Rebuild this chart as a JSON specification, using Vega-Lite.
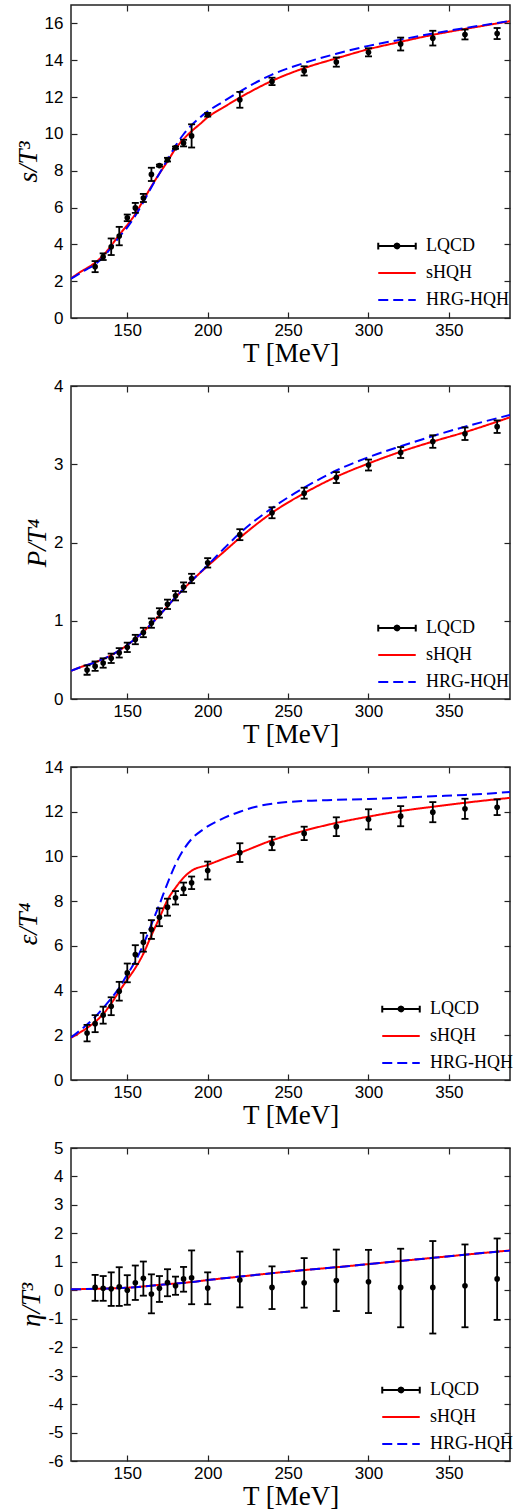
{
  "$schema": "https://vega.github.io/schema/vega-lite/v6.json",
  "background": "white",
  "padding": {"left": 13, "top": 3, "right": 0, "bottom": 0},
  "spacing": 68,
  "bounds": "flush",
  "config": {
    "view": {"stroke": "#222222", "strokeWidth": 1.5},
    "axis": {"domain": false, "grid": false, "tickColor": "#222222", "tickSize": -6, "tickWidth": 1.2,
      "labelFont": "Liberation Sans", "labelFontSize": 17, "labelColor": "black", "labelPadding": 14,
      "titleFont": "Liberation Serif", "titleFontSize": 27, "titleFontWeight": "normal", "titleColor": "black"},
    "axisBottom": {"labelPadding": 10},
    "legend": {"labelFont": "Liberation Serif", "labelFontSize": 18, "labelColor": "black"}
  },
  "datasets": {
    "s_pts": [
      {"T":130,"v":2.79,"lo":2.49,"hi":3.09},{"T":135,"v":3.33,"lo":3.15,"hi":3.51},{"T":140,"v":3.87,"lo":3.42,"hi":4.32},
      {"T":145,"v":4.45,"lo":3.95,"hi":4.95},{"T":150,"v":5.44,"lo":5.26,"hi":5.62},{"T":155,"v":5.98,"lo":5.71,"hi":6.25},
      {"T":160,"v":6.52,"lo":6.3,"hi":6.74},{"T":165,"v":7.8,"lo":7.44,"hi":8.16},{"T":170,"v":8.28,"lo":8.23,"hi":8.33},
      {"T":175,"v":8.6,"lo":8.5,"hi":8.7},{"T":180,"v":9.25,"lo":9.19,"hi":9.31},{"T":185,"v":9.5,"lo":9.32,"hi":9.68},
      {"T":190,"v":9.89,"lo":9.26,"hi":10.52},{"T":200,"v":11.04,"lo":10.94,"hi":11.14},{"T":220,"v":11.85,"lo":11.42,"hi":12.28},
      {"T":240,"v":12.85,"lo":12.65,"hi":13.05},{"T":260,"v":13.42,"lo":13.17,"hi":13.67},{"T":280,"v":13.9,"lo":13.65,"hi":14.15},
      {"T":300,"v":14.43,"lo":14.21,"hi":14.65},{"T":320,"v":14.88,"lo":14.53,"hi":15.23},{"T":340,"v":15.2,"lo":14.8,"hi":15.6},
      {"T":360,"v":15.4,"lo":15.13,"hi":15.67},{"T":380,"v":15.45,"lo":15.15,"hi":15.75}
    ],
    "s_lines": [
      {"T":115,"v":2.15,"series":"sHQH"},{"T":120,"v":2.45,"series":"sHQH"},{"T":125,"v":2.72,"series":"sHQH"},{"T":130,"v":3.0,"series":"sHQH"},
      {"T":135,"v":3.4,"series":"sHQH"},{"T":140,"v":3.93,"series":"sHQH"},{"T":145,"v":4.52,"series":"sHQH"},{"T":150,"v":5.05,"series":"sHQH"},
      {"T":155,"v":5.65,"series":"sHQH"},{"T":160,"v":6.4,"series":"sHQH"},{"T":165,"v":7.15,"series":"sHQH"},{"T":170,"v":7.85,"series":"sHQH"},
      {"T":175,"v":8.5,"series":"sHQH"},{"T":180,"v":9.2,"series":"sHQH"},{"T":185,"v":9.72,"series":"sHQH"},{"T":190,"v":10.15,"series":"sHQH"},
      {"T":195,"v":10.52,"series":"sHQH"},{"T":200,"v":10.9,"series":"sHQH"},{"T":210,"v":11.45,"series":"sHQH"},{"T":220,"v":11.97,"series":"sHQH"},
      {"T":240,"v":12.88,"series":"sHQH"},{"T":260,"v":13.57,"series":"sHQH"},{"T":280,"v":14.1,"series":"sHQH"},{"T":300,"v":14.6,"series":"sHQH"},
      {"T":320,"v":15.0,"series":"sHQH"},{"T":340,"v":15.38,"series":"sHQH"},{"T":360,"v":15.7,"series":"sHQH"},{"T":380,"v":16.0,"series":"sHQH"},
      {"T":388,"v":16.12,"series":"sHQH"},
      {"T":115,"v":2.13,"series":"HRG-HQH"},{"T":120,"v":2.4,"series":"HRG-HQH"},{"T":125,"v":2.66,"series":"HRG-HQH"},{"T":130,"v":2.92,"series":"HRG-HQH"},
      {"T":135,"v":3.3,"series":"HRG-HQH"},{"T":140,"v":3.82,"series":"HRG-HQH"},{"T":145,"v":4.4,"series":"HRG-HQH"},{"T":150,"v":4.92,"series":"HRG-HQH"},
      {"T":155,"v":5.55,"series":"HRG-HQH"},{"T":160,"v":6.3,"series":"HRG-HQH"},{"T":165,"v":7.1,"series":"HRG-HQH"},{"T":170,"v":7.85,"series":"HRG-HQH"},
      {"T":175,"v":8.6,"series":"HRG-HQH"},{"T":180,"v":9.35,"series":"HRG-HQH"},{"T":185,"v":9.98,"series":"HRG-HQH"},{"T":190,"v":10.48,"series":"HRG-HQH"},
      {"T":195,"v":10.88,"series":"HRG-HQH"},{"T":200,"v":11.22,"series":"HRG-HQH"},{"T":210,"v":11.77,"series":"HRG-HQH"},{"T":220,"v":12.3,"series":"HRG-HQH"},
      {"T":240,"v":13.22,"series":"HRG-HQH"},{"T":260,"v":13.85,"series":"HRG-HQH"},{"T":280,"v":14.35,"series":"HRG-HQH"},{"T":300,"v":14.78,"series":"HRG-HQH"},
      {"T":320,"v":15.12,"series":"HRG-HQH"},{"T":340,"v":15.45,"series":"HRG-HQH"},{"T":360,"v":15.75,"series":"HRG-HQH"},{"T":380,"v":16.02,"series":"HRG-HQH"},
      {"T":388,"v":16.14,"series":"HRG-HQH"}
    ],
    "p_pts": [
      {"T":125,"v":0.37,"lo":0.31,"hi":0.43},{"T":130,"v":0.42,"lo":0.36,"hi":0.48},{"T":135,"v":0.46,"lo":0.4,"hi":0.52},
      {"T":140,"v":0.52,"lo":0.46,"hi":0.58},{"T":145,"v":0.59,"lo":0.53,"hi":0.65},{"T":150,"v":0.66,"lo":0.6,"hi":0.72},
      {"T":155,"v":0.76,"lo":0.7,"hi":0.82},{"T":160,"v":0.85,"lo":0.79,"hi":0.91},{"T":165,"v":0.97,"lo":0.91,"hi":1.03},
      {"T":170,"v":1.1,"lo":1.04,"hi":1.16},{"T":175,"v":1.21,"lo":1.15,"hi":1.27},{"T":180,"v":1.32,"lo":1.26,"hi":1.38},
      {"T":185,"v":1.43,"lo":1.37,"hi":1.49},{"T":190,"v":1.54,"lo":1.48,"hi":1.6},{"T":200,"v":1.74,"lo":1.68,"hi":1.8},
      {"T":220,"v":2.1,"lo":2.03,"hi":2.17},{"T":240,"v":2.38,"lo":2.31,"hi":2.45},{"T":260,"v":2.63,"lo":2.56,"hi":2.7},
      {"T":280,"v":2.83,"lo":2.76,"hi":2.9},{"T":300,"v":2.99,"lo":2.92,"hi":3.06},{"T":320,"v":3.15,"lo":3.08,"hi":3.22},
      {"T":340,"v":3.29,"lo":3.21,"hi":3.37},{"T":360,"v":3.39,"lo":3.31,"hi":3.47},{"T":380,"v":3.48,"lo":3.4,"hi":3.56}
    ],
    "p_lines": [
      {"T":115,"v":0.36,"series":"sHQH"},{"T":120,"v":0.4,"series":"sHQH"},{"T":130,"v":0.47,"series":"sHQH"},{"T":140,"v":0.56,"series":"sHQH"},
      {"T":150,"v":0.69,"series":"sHQH"},{"T":160,"v":0.86,"series":"sHQH"},{"T":170,"v":1.07,"series":"sHQH"},{"T":180,"v":1.3,"series":"sHQH"},
      {"T":190,"v":1.51,"series":"sHQH"},{"T":200,"v":1.7,"series":"sHQH"},{"T":210,"v":1.88,"series":"sHQH"},{"T":220,"v":2.06,"series":"sHQH"},
      {"T":240,"v":2.38,"series":"sHQH"},{"T":260,"v":2.63,"series":"sHQH"},{"T":280,"v":2.84,"series":"sHQH"},{"T":300,"v":3.01,"series":"sHQH"},
      {"T":320,"v":3.16,"series":"sHQH"},{"T":340,"v":3.29,"series":"sHQH"},{"T":360,"v":3.41,"series":"sHQH"},{"T":388,"v":3.6,"series":"sHQH"},
      {"T":115,"v":0.36,"series":"HRG-HQH"},{"T":120,"v":0.4,"series":"HRG-HQH"},{"T":130,"v":0.47,"series":"HRG-HQH"},{"T":140,"v":0.56,"series":"HRG-HQH"},
      {"T":150,"v":0.69,"series":"HRG-HQH"},{"T":160,"v":0.86,"series":"HRG-HQH"},{"T":170,"v":1.07,"series":"HRG-HQH"},{"T":180,"v":1.3,"series":"HRG-HQH"},
      {"T":190,"v":1.51,"series":"HRG-HQH"},{"T":200,"v":1.71,"series":"HRG-HQH"},{"T":210,"v":1.92,"series":"HRG-HQH"},{"T":220,"v":2.12,"series":"HRG-HQH"},
      {"T":240,"v":2.44,"series":"HRG-HQH"},{"T":260,"v":2.7,"series":"HRG-HQH"},{"T":280,"v":2.92,"series":"HRG-HQH"},{"T":300,"v":3.09,"series":"HRG-HQH"},
      {"T":320,"v":3.23,"series":"HRG-HQH"},{"T":340,"v":3.36,"series":"HRG-HQH"},{"T":360,"v":3.48,"series":"HRG-HQH"},{"T":388,"v":3.63,"series":"HRG-HQH"}
    ],
    "e_pts": [
      {"T":125,"v":2.1,"lo":1.73,"hi":2.47},{"T":130,"v":2.52,"lo":2.14,"hi":2.9},{"T":135,"v":2.9,"lo":2.52,"hi":3.28},
      {"T":140,"v":3.3,"lo":2.9,"hi":3.7},{"T":145,"v":3.97,"lo":3.55,"hi":4.39},{"T":150,"v":4.79,"lo":4.37,"hi":5.21},
      {"T":155,"v":5.61,"lo":5.19,"hi":6.03},{"T":160,"v":6.16,"lo":5.74,"hi":6.58},{"T":165,"v":6.73,"lo":6.31,"hi":7.15},
      {"T":170,"v":7.28,"lo":6.88,"hi":7.68},{"T":175,"v":7.73,"lo":7.35,"hi":8.11},{"T":180,"v":8.15,"lo":7.85,"hi":8.45},
      {"T":185,"v":8.55,"lo":8.27,"hi":8.83},{"T":190,"v":8.82,"lo":8.54,"hi":9.1},{"T":200,"v":9.37,"lo":8.97,"hi":9.77},
      {"T":220,"v":10.17,"lo":9.75,"hi":10.59},{"T":240,"v":10.58,"lo":10.28,"hi":10.88},{"T":260,"v":11.03,"lo":10.73,"hi":11.33},
      {"T":280,"v":11.33,"lo":10.91,"hi":11.75},{"T":300,"v":11.66,"lo":11.21,"hi":12.11},{"T":320,"v":11.8,"lo":11.35,"hi":12.25},
      {"T":340,"v":11.98,"lo":11.53,"hi":12.43},{"T":360,"v":12.13,"lo":11.68,"hi":12.58},{"T":380,"v":12.2,"lo":11.85,"hi":12.55}
    ],
    "e_lines": [
      {"T":115,"v":1.88,"series":"sHQH"},{"T":120,"v":2.1,"series":"sHQH"},{"T":125,"v":2.33,"series":"sHQH"},{"T":130,"v":2.6,"series":"sHQH"},
      {"T":135,"v":2.95,"series":"sHQH"},{"T":140,"v":3.42,"series":"sHQH"},{"T":145,"v":3.97,"series":"sHQH"},{"T":150,"v":4.49,"series":"sHQH"},
      {"T":155,"v":5.01,"series":"sHQH"},{"T":160,"v":5.65,"series":"sHQH"},{"T":165,"v":6.47,"series":"sHQH"},{"T":170,"v":7.25,"series":"sHQH"},
      {"T":175,"v":8.05,"series":"sHQH"},{"T":180,"v":8.6,"series":"sHQH"},{"T":185,"v":9.05,"series":"sHQH"},{"T":190,"v":9.36,"series":"sHQH"},
      {"T":200,"v":9.62,"series":"sHQH"},{"T":210,"v":9.9,"series":"sHQH"},{"T":220,"v":10.16,"series":"sHQH"},{"T":240,"v":10.72,"series":"sHQH"},
      {"T":260,"v":11.15,"series":"sHQH"},{"T":280,"v":11.5,"series":"sHQH"},{"T":300,"v":11.78,"series":"sHQH"},{"T":320,"v":12.03,"series":"sHQH"},
      {"T":340,"v":12.22,"series":"sHQH"},{"T":360,"v":12.4,"series":"sHQH"},{"T":388,"v":12.62,"series":"sHQH"},
      {"T":115,"v":1.9,"series":"HRG-HQH"},{"T":120,"v":2.18,"series":"HRG-HQH"},{"T":125,"v":2.48,"series":"HRG-HQH"},{"T":130,"v":2.82,"series":"HRG-HQH"},
      {"T":135,"v":3.22,"series":"HRG-HQH"},{"T":140,"v":3.65,"series":"HRG-HQH"},{"T":145,"v":4.12,"series":"HRG-HQH"},{"T":150,"v":4.72,"series":"HRG-HQH"},
      {"T":155,"v":5.31,"series":"HRG-HQH"},{"T":160,"v":6.06,"series":"HRG-HQH"},{"T":165,"v":6.96,"series":"HRG-HQH"},{"T":170,"v":7.85,"series":"HRG-HQH"},
      {"T":175,"v":8.8,"series":"HRG-HQH"},{"T":180,"v":9.65,"series":"HRG-HQH"},{"T":185,"v":10.3,"series":"HRG-HQH"},{"T":190,"v":10.78,"series":"HRG-HQH"},
      {"T":197,"v":11.2,"series":"HRG-HQH"},{"T":208,"v":11.65,"series":"HRG-HQH"},{"T":220,"v":12.0,"series":"HRG-HQH"},{"T":230,"v":12.22,"series":"HRG-HQH"},
      {"T":240,"v":12.36,"series":"HRG-HQH"},{"T":260,"v":12.48,"series":"HRG-HQH"},{"T":280,"v":12.53,"series":"HRG-HQH"},{"T":300,"v":12.57,"series":"HRG-HQH"},
      {"T":320,"v":12.63,"series":"HRG-HQH"},{"T":340,"v":12.69,"series":"HRG-HQH"},{"T":360,"v":12.75,"series":"HRG-HQH"},{"T":388,"v":12.88,"series":"HRG-HQH"}
    ],
    "n_pts": [
      {"T":130,"v":0.1,"lo":-0.37,"hi":0.54},{"T":135,"v":0.07,"lo":-0.37,"hi":0.5},{"T":140,"v":0.05,"lo":-0.55,"hi":0.63},
      {"T":145,"v":0.12,"lo":-0.55,"hi":0.81},{"T":150,"v":0.0,"lo":-0.51,"hi":0.53},{"T":155,"v":0.26,"lo":-0.34,"hi":0.87},
      {"T":160,"v":0.42,"lo":-0.19,"hi":1.01},{"T":165,"v":-0.13,"lo":-0.81,"hi":0.56},{"T":170,"v":0.07,"lo":-0.41,"hi":0.5},
      {"T":175,"v":0.27,"lo":-0.21,"hi":0.74},{"T":180,"v":0.16,"lo":-0.16,"hi":0.48},{"T":185,"v":0.4,"lo":-0.05,"hi":0.82},
      {"T":190,"v":0.44,"lo":-0.49,"hi":1.4},{"T":200,"v":0.08,"lo":-0.49,"hi":0.63},{"T":220,"v":0.36,"lo":-0.6,"hi":1.36},
      {"T":240,"v":0.1,"lo":-0.66,"hi":0.84},{"T":260,"v":0.26,"lo":-0.61,"hi":1.13},{"T":280,"v":0.34,"lo":-0.73,"hi":1.43},
      {"T":300,"v":0.3,"lo":-0.8,"hi":1.42},{"T":320,"v":0.1,"lo":-1.3,"hi":1.46},{"T":340,"v":0.1,"lo":-1.52,"hi":1.73},
      {"T":360,"v":0.16,"lo":-1.3,"hi":1.61},{"T":380,"v":0.4,"lo":-1.04,"hi":1.82}
    ],
    "n_lines": [
      {"T":115,"v":0.035,"series":"sHQH"},{"T":150,"v":0.09,"series":"sHQH"},{"T":170,"v":0.19,"series":"sHQH"},{"T":190,"v":0.29,"series":"sHQH"},
      {"T":200,"v":0.36,"series":"sHQH"},{"T":220,"v":0.48,"series":"sHQH"},{"T":240,"v":0.6,"series":"sHQH"},{"T":260,"v":0.71,"series":"sHQH"},
      {"T":280,"v":0.81,"series":"sHQH"},{"T":300,"v":0.92,"series":"sHQH"},{"T":320,"v":1.03,"series":"sHQH"},{"T":340,"v":1.14,"series":"sHQH"},
      {"T":360,"v":1.25,"series":"sHQH"},{"T":388,"v":1.4,"series":"sHQH"},
      {"T":115,"v":0.035,"series":"HRG-HQH"},{"T":150,"v":0.09,"series":"HRG-HQH"},{"T":170,"v":0.19,"series":"HRG-HQH"},{"T":190,"v":0.29,"series":"HRG-HQH"},
      {"T":200,"v":0.36,"series":"HRG-HQH"},{"T":220,"v":0.48,"series":"HRG-HQH"},{"T":240,"v":0.6,"series":"HRG-HQH"},{"T":260,"v":0.71,"series":"HRG-HQH"},
      {"T":280,"v":0.81,"series":"HRG-HQH"},{"T":300,"v":0.92,"series":"HRG-HQH"},{"T":320,"v":1.03,"series":"HRG-HQH"},{"T":340,"v":1.14,"series":"HRG-HQH"},
      {"T":360,"v":1.25,"series":"HRG-HQH"},{"T":388,"v":1.4,"series":"HRG-HQH"}
    ]
  },
  "resolve": {"scale": {"color": "independent", "strokeDash": "independent"}, "legend": {"color": "independent", "strokeDash": "independent"}},
  "vconcat": [
    {
      "width": 439, "height": 313,
      "resolve": {"axis": {"x": "independent", "y": "independent"}},
      "layer": [
        {"data": {"name": "s_lines"}, "mark": {"type": "line", "strokeWidth": 2, "interpolate": "monotone", "clip": true},
          "encoding": {
            "x": {"field": "T", "type": "quantitative", "scale": {"domain": [115, 388], "nice": false, "zero": false}, "axis": {"values": [150, 200, 250, 300, 350], "title": "T [MeV]", "titlePadding": 2}},
            "y": {"field": "v", "type": "quantitative", "scale": {"domain": [0, 17], "nice": false, "zero": false}, "axis": {"values": [0, 2, 4, 6, 8, 10, 12, 14, 16], "title": "s/T³", "titleFontStyle": "italic", "titlePadding": 2}},
            "color": {"field": "series", "type": "nominal", "scale": {"domain": ["LQCD", "sHQH", "HRG-HQH"], "range": ["#000000", "#ff0000", "#0000ff"]},
              "legend": {"orient": "none", "legendX": 317, "legendY": 232, "title": null, "padding": 0, "labelOffset": 20, "symbolSize": 225, "rowPadding": 9, "labelLimit": 300,
                "encode": {"symbols": {"update": {
                  "shape": {"signal": "datum.value === 'LQCD' ? 'M-2.5,0L2.5,0M-2.5,-0.45L-2.5,0.45M2.5,-0.45L2.5,0.45M0.32,0A0.32,0.32,0,1,1,-0.32,0A0.32,0.32,0,1,1,0.32,0Z' : 'M-2.5,0L2.5,0'"},
                  "fill": {"signal": "datum.value === 'LQCD' ? 'black' : 'transparent'"},
                  "stroke": {"signal": "datum.value === 'LQCD' ? 'black' : (datum.value === 'sHQH' ? 'red' : 'blue')"},
                  "strokeWidth": {"value": 2},
                  "strokeDash": {"signal": "datum.value === 'HRG-HQH' ? [15, 6] : [1, 0]"},
                  "opacity": {"value": 1}}}}}},
            "strokeDash": {"field": "series", "type": "nominal", "scale": {"domain": ["LQCD", "sHQH", "HRG-HQH"], "range": [[1, 0], [1, 0], [10, 5]]}, "legend": null}
          }},
        {"data": {"name": "s_pts"}, "mark": {"type": "rule", "color": "black", "strokeWidth": 1.8},
          "encoding": {"x": {"field": "T", "type": "quantitative", "scale": {"domain": [115, 388], "nice": false, "zero": false}, "axis": null},
            "y": {"field": "lo", "type": "quantitative", "scale": {"domain": [0, 17], "nice": false, "zero": false}, "axis": null}, "y2": {"field": "hi"}}},
        {"data": {"name": "s_pts"}, "mark": {"type": "tick", "orient": "horizontal", "color": "black", "size": 7, "thickness": 1.8, "opacity": 1},
          "encoding": {"x": {"field": "T", "type": "quantitative", "scale": {"domain": [115, 388], "nice": false, "zero": false}, "axis": null},
            "y": {"field": "lo", "type": "quantitative", "scale": {"domain": [0, 17], "nice": false, "zero": false}, "axis": null}}},
        {"data": {"name": "s_pts"}, "mark": {"type": "tick", "orient": "horizontal", "color": "black", "size": 7, "thickness": 1.8, "opacity": 1},
          "encoding": {"x": {"field": "T", "type": "quantitative", "scale": {"domain": [115, 388], "nice": false, "zero": false}, "axis": null},
            "y": {"field": "hi", "type": "quantitative", "scale": {"domain": [0, 17], "nice": false, "zero": false}, "axis": null}}},
        {"data": {"name": "s_pts"}, "mark": {"type": "circle", "color": "black", "size": 32, "opacity": 1},
          "encoding": {"x": {"field": "T", "type": "quantitative", "scale": {"domain": [115, 388], "nice": false, "zero": false}, "axis": {"orient": "top", "labels": false, "title": null, "values": [150, 200, 250, 300, 350]}},
            "y": {"field": "v", "type": "quantitative", "scale": {"domain": [0, 17], "nice": false, "zero": false}, "axis": {"orient": "right", "labels": false, "title": null, "values": [0, 2, 4, 6, 8, 10, 12, 14, 16]}}}}
      ]
    },
    {
      "width": 439, "height": 313,
      "resolve": {"axis": {"x": "independent", "y": "independent"}},
      "layer": [
        {"data": {"name": "p_lines"}, "mark": {"type": "line", "strokeWidth": 2, "interpolate": "monotone", "clip": true},
          "encoding": {
            "x": {"field": "T", "type": "quantitative", "scale": {"domain": [115, 388], "nice": false, "zero": false}, "axis": {"values": [150, 200, 250, 300, 350], "title": "T [MeV]", "titlePadding": 2}},
            "y": {"field": "v", "type": "quantitative", "scale": {"domain": [0, 4], "nice": false, "zero": false}, "axis": {"values": [0, 1, 2, 3, 4], "title": "P/T⁴", "titleFontStyle": "italic", "titlePadding": 2}},
            "color": {"field": "series", "type": "nominal", "scale": {"domain": ["LQCD", "sHQH", "HRG-HQH"], "range": ["#000000", "#ff0000", "#0000ff"]},
              "legend": {"orient": "none", "legendX": 317, "legendY": 233, "title": null, "padding": 0, "labelOffset": 20, "symbolSize": 225, "rowPadding": 9, "labelLimit": 300,
                "encode": {"symbols": {"update": {
                  "shape": {"signal": "datum.value === 'LQCD' ? 'M-2.5,0L2.5,0M-2.5,-0.45L-2.5,0.45M2.5,-0.45L2.5,0.45M0.32,0A0.32,0.32,0,1,1,-0.32,0A0.32,0.32,0,1,1,0.32,0Z' : 'M-2.5,0L2.5,0'"},
                  "fill": {"signal": "datum.value === 'LQCD' ? 'black' : 'transparent'"},
                  "stroke": {"signal": "datum.value === 'LQCD' ? 'black' : (datum.value === 'sHQH' ? 'red' : 'blue')"},
                  "strokeWidth": {"value": 2},
                  "strokeDash": {"signal": "datum.value === 'HRG-HQH' ? [15, 6] : [1, 0]"},
                  "opacity": {"value": 1}}}}}},
            "strokeDash": {"field": "series", "type": "nominal", "scale": {"domain": ["LQCD", "sHQH", "HRG-HQH"], "range": [[1, 0], [1, 0], [10, 5]]}, "legend": null}
          }},
        {"data": {"name": "p_pts"}, "mark": {"type": "rule", "color": "black", "strokeWidth": 1.8},
          "encoding": {"x": {"field": "T", "type": "quantitative", "scale": {"domain": [115, 388], "nice": false, "zero": false}, "axis": null},
            "y": {"field": "lo", "type": "quantitative", "scale": {"domain": [0, 4], "nice": false, "zero": false}, "axis": null}, "y2": {"field": "hi"}}},
        {"data": {"name": "p_pts"}, "mark": {"type": "tick", "orient": "horizontal", "color": "black", "size": 7, "thickness": 1.8, "opacity": 1},
          "encoding": {"x": {"field": "T", "type": "quantitative", "scale": {"domain": [115, 388], "nice": false, "zero": false}, "axis": null},
            "y": {"field": "lo", "type": "quantitative", "scale": {"domain": [0, 4], "nice": false, "zero": false}, "axis": null}}},
        {"data": {"name": "p_pts"}, "mark": {"type": "tick", "orient": "horizontal", "color": "black", "size": 7, "thickness": 1.8, "opacity": 1},
          "encoding": {"x": {"field": "T", "type": "quantitative", "scale": {"domain": [115, 388], "nice": false, "zero": false}, "axis": null},
            "y": {"field": "hi", "type": "quantitative", "scale": {"domain": [0, 4], "nice": false, "zero": false}, "axis": null}}},
        {"data": {"name": "p_pts"}, "mark": {"type": "circle", "color": "black", "size": 32, "opacity": 1},
          "encoding": {"x": {"field": "T", "type": "quantitative", "scale": {"domain": [115, 388], "nice": false, "zero": false}, "axis": {"orient": "top", "labels": false, "title": null, "values": [150, 200, 250, 300, 350]}},
            "y": {"field": "v", "type": "quantitative", "scale": {"domain": [0, 4], "nice": false, "zero": false}, "axis": {"orient": "right", "labels": false, "title": null, "values": [0, 1, 2, 3, 4]}}}}
      ]
    },
    {
      "width": 439, "height": 313,
      "resolve": {"axis": {"x": "independent", "y": "independent"}},
      "layer": [
        {"data": {"name": "e_lines"}, "mark": {"type": "line", "strokeWidth": 2, "interpolate": "monotone", "clip": true},
          "encoding": {
            "x": {"field": "T", "type": "quantitative", "scale": {"domain": [115, 388], "nice": false, "zero": false}, "axis": {"values": [150, 200, 250, 300, 350], "title": "T [MeV]", "titlePadding": 2}},
            "y": {"field": "v", "type": "quantitative", "scale": {"domain": [0, 14], "nice": false, "zero": false}, "axis": {"values": [0, 2, 4, 6, 8, 10, 12, 14], "title": "ε/T⁴", "titleFontStyle": "italic", "titlePadding": 2}},
            "color": {"field": "series", "type": "nominal", "scale": {"domain": ["LQCD", "sHQH", "HRG-HQH"], "range": ["#000000", "#ff0000", "#0000ff"]},
              "legend": {"orient": "none", "legendX": 321, "legendY": 233, "title": null, "padding": 0, "labelOffset": 20, "symbolSize": 225, "rowPadding": 9, "labelLimit": 300,
                "encode": {"symbols": {"update": {
                  "shape": {"signal": "datum.value === 'LQCD' ? 'M-2.5,0L2.5,0M-2.5,-0.45L-2.5,0.45M2.5,-0.45L2.5,0.45M0.32,0A0.32,0.32,0,1,1,-0.32,0A0.32,0.32,0,1,1,0.32,0Z' : 'M-2.5,0L2.5,0'"},
                  "fill": {"signal": "datum.value === 'LQCD' ? 'black' : 'transparent'"},
                  "stroke": {"signal": "datum.value === 'LQCD' ? 'black' : (datum.value === 'sHQH' ? 'red' : 'blue')"},
                  "strokeWidth": {"value": 2},
                  "strokeDash": {"signal": "datum.value === 'HRG-HQH' ? [15, 6] : [1, 0]"},
                  "opacity": {"value": 1}}}}}},
            "strokeDash": {"field": "series", "type": "nominal", "scale": {"domain": ["LQCD", "sHQH", "HRG-HQH"], "range": [[1, 0], [1, 0], [10, 5]]}, "legend": null}
          }},
        {"data": {"name": "e_pts"}, "mark": {"type": "rule", "color": "black", "strokeWidth": 1.8},
          "encoding": {"x": {"field": "T", "type": "quantitative", "scale": {"domain": [115, 388], "nice": false, "zero": false}, "axis": null},
            "y": {"field": "lo", "type": "quantitative", "scale": {"domain": [0, 14], "nice": false, "zero": false}, "axis": null}, "y2": {"field": "hi"}}},
        {"data": {"name": "e_pts"}, "mark": {"type": "tick", "orient": "horizontal", "color": "black", "size": 7, "thickness": 1.8, "opacity": 1},
          "encoding": {"x": {"field": "T", "type": "quantitative", "scale": {"domain": [115, 388], "nice": false, "zero": false}, "axis": null},
            "y": {"field": "lo", "type": "quantitative", "scale": {"domain": [0, 14], "nice": false, "zero": false}, "axis": null}}},
        {"data": {"name": "e_pts"}, "mark": {"type": "tick", "orient": "horizontal", "color": "black", "size": 7, "thickness": 1.8, "opacity": 1},
          "encoding": {"x": {"field": "T", "type": "quantitative", "scale": {"domain": [115, 388], "nice": false, "zero": false}, "axis": null},
            "y": {"field": "hi", "type": "quantitative", "scale": {"domain": [0, 14], "nice": false, "zero": false}, "axis": null}}},
        {"data": {"name": "e_pts"}, "mark": {"type": "circle", "color": "black", "size": 32, "opacity": 1},
          "encoding": {"x": {"field": "T", "type": "quantitative", "scale": {"domain": [115, 388], "nice": false, "zero": false}, "axis": {"orient": "top", "labels": false, "title": null, "values": [150, 200, 250, 300, 350]}},
            "y": {"field": "v", "type": "quantitative", "scale": {"domain": [0, 14], "nice": false, "zero": false}, "axis": {"orient": "right", "labels": false, "title": null, "values": [0, 2, 4, 6, 8, 10, 12, 14]}}}}
      ]
    },
    {
      "width": 439, "height": 313,
      "resolve": {"axis": {"x": "independent", "y": "independent"}},
      "layer": [
        {"mark": {"type": "rule", "color": "#444444", "strokeWidth": 1, "strokeDash": [1.5, 2]},
          "encoding": {"y": {"datum": 0, "type": "quantitative", "scale": {"domain": [-6, 5], "nice": false, "zero": false}, "axis": null}}},
        {"data": {"name": "n_lines"}, "mark": {"type": "line", "strokeWidth": 2, "interpolate": "monotone", "clip": true},
          "encoding": {
            "x": {"field": "T", "type": "quantitative", "scale": {"domain": [115, 388], "nice": false, "zero": false}, "axis": {"values": [150, 200, 250, 300, 350], "title": "T [MeV]", "titlePadding": 2}},
            "y": {"field": "v", "type": "quantitative", "scale": {"domain": [-6, 5], "nice": false, "zero": false}, "axis": {"values": [-6, -5, -4, -3, -2, -1, 0, 1, 2, 3, 4, 5], "labelExpr": "'' + datum.value", "title": "η/T³", "titleFontStyle": "italic", "titlePadding": 2}},
            "color": {"field": "series", "type": "nominal", "scale": {"domain": ["LQCD", "sHQH", "HRG-HQH"], "range": ["#000000", "#ff0000", "#0000ff"]},
              "legend": {"orient": "none", "legendX": 321, "legendY": 233, "title": null, "padding": 0, "labelOffset": 20, "symbolSize": 225, "rowPadding": 9, "labelLimit": 300,
                "encode": {"symbols": {"update": {
                  "shape": {"signal": "datum.value === 'LQCD' ? 'M-2.5,0L2.5,0M-2.5,-0.45L-2.5,0.45M2.5,-0.45L2.5,0.45M0.32,0A0.32,0.32,0,1,1,-0.32,0A0.32,0.32,0,1,1,0.32,0Z' : 'M-2.5,0L2.5,0'"},
                  "fill": {"signal": "datum.value === 'LQCD' ? 'black' : 'transparent'"},
                  "stroke": {"signal": "datum.value === 'LQCD' ? 'black' : (datum.value === 'sHQH' ? 'red' : 'blue')"},
                  "strokeWidth": {"value": 2},
                  "strokeDash": {"signal": "datum.value === 'HRG-HQH' ? [15, 6] : [1, 0]"},
                  "opacity": {"value": 1}}}}}},
            "strokeDash": {"field": "series", "type": "nominal", "scale": {"domain": ["LQCD", "sHQH", "HRG-HQH"], "range": [[1, 0], [1, 0], [10, 5]]}, "legend": null}
          }},
        {"data": {"name": "n_pts"}, "mark": {"type": "rule", "color": "black", "strokeWidth": 1.8},
          "encoding": {"x": {"field": "T", "type": "quantitative", "scale": {"domain": [115, 388], "nice": false, "zero": false}, "axis": null},
            "y": {"field": "lo", "type": "quantitative", "scale": {"domain": [-6, 5], "nice": false, "zero": false}, "axis": null}, "y2": {"field": "hi"}}},
        {"data": {"name": "n_pts"}, "mark": {"type": "tick", "orient": "horizontal", "color": "black", "size": 7, "thickness": 1.8, "opacity": 1},
          "encoding": {"x": {"field": "T", "type": "quantitative", "scale": {"domain": [115, 388], "nice": false, "zero": false}, "axis": null},
            "y": {"field": "lo", "type": "quantitative", "scale": {"domain": [-6, 5], "nice": false, "zero": false}, "axis": null}}},
        {"data": {"name": "n_pts"}, "mark": {"type": "tick", "orient": "horizontal", "color": "black", "size": 7, "thickness": 1.8, "opacity": 1},
          "encoding": {"x": {"field": "T", "type": "quantitative", "scale": {"domain": [115, 388], "nice": false, "zero": false}, "axis": null},
            "y": {"field": "hi", "type": "quantitative", "scale": {"domain": [-6, 5], "nice": false, "zero": false}, "axis": null}}},
        {"data": {"name": "n_pts"}, "mark": {"type": "circle", "color": "black", "size": 32, "opacity": 1},
          "encoding": {"x": {"field": "T", "type": "quantitative", "scale": {"domain": [115, 388], "nice": false, "zero": false}, "axis": {"orient": "top", "labels": false, "title": null, "values": [150, 200, 250, 300, 350]}},
            "y": {"field": "v", "type": "quantitative", "scale": {"domain": [-6, 5], "nice": false, "zero": false}, "axis": {"orient": "right", "labels": false, "title": null, "values": [-6, -5, -4, -3, -2, -1, 0, 1, 2, 3, 4, 5]}}}}
      ]
    }
  ]
}
